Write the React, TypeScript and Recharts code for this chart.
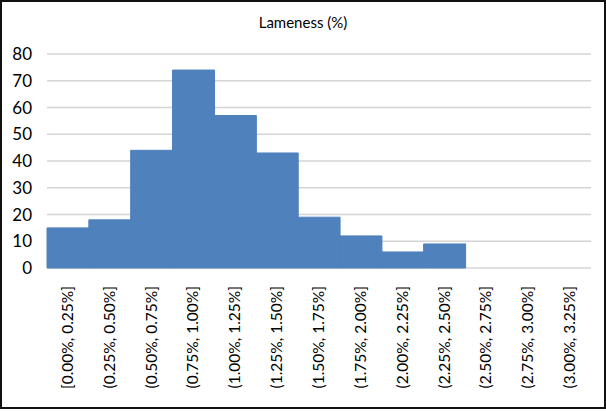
import { BarChart, Bar, XAxis, YAxis, CartesianGrid } from 'recharts';

const bins = [
  '[0.00%, 0.25%]',
  '(0.25%, 0.50%]',
  '(0.50%, 0.75%]',
  '(0.75%, 1.00%]',
  '(1.00%, 1.25%]',
  '(1.25%, 1.50%]',
  '(1.50%, 1.75%]',
  '(1.75%, 2.00%]',
  '(2.00%, 2.25%]',
  '(2.25%, 2.50%]',
  '(2.50%, 2.75%]',
  '(2.75%, 3.00%]',
  '(3.00%, 3.25%]',
];
const counts = [15, 18, 44, 74, 57, 43, 19, 12, 6, 9, 0, 0, 0];
const yTicks = [0, 10, 20, 30, 40, 50, 60, 70, 80];

const FONT = 'Lato, "Open Sans", sans-serif';

// rotated bin label, reads bottom-to-top like Excel
function BinTick(props: any) {
  const { x, y, payload } = props;
  return (
    <text
      transform={`translate(${x + 5},${y + 10}) rotate(-90)`}
      textAnchor="end"
      fontSize={15.5}
      fontFamily={FONT}
      fill="#000"
    >
      {payload.value}
    </text>
  );
}

export default function App() {
  const chartData = bins.map((bin, i) => ({ bin, count: counts[i] }));

  return (
    <div style={{ position: 'absolute', left: 0, top: 0, width: 606, height: 412, background: '#fff' }}>
      <div
        style={{
          position: 'absolute',
          left: 0,
          top: 0,
          width: 606,
          height: 409,
          boxSizing: 'border-box',
          border: '2px solid #111',
          pointerEvents: 'none',
        }}
      />
      <div
        style={{
          position: 'absolute',
          left: 0,
          top: 13,
          width: 606,
          textAlign: 'center',
          fontFamily: FONT,
          fontSize: 15,
          color: '#000',
        }}
      >
        Lameness (%)
      </div>
      <BarChart
        width={606}
        height={412}
        data={chartData}
        barCategoryGap={0}
        margin={{ top: 54, right: 15, bottom: 10, left: 7 }}
      >
        <CartesianGrid vertical={false} stroke="#D4D4D4" strokeWidth={1.5} />
        <XAxis
          dataKey="bin"
          interval={0}
          height={134}
          tick={<BinTick />}
          tickLine={false}
          axisLine={false}
        />
        <YAxis
          width={40}
          domain={[0, 80]}
          ticks={yTicks}
          tickLine={false}
          axisLine={false}
          tickSize={0}
          tickMargin={15}
          tick={{ fontSize: 17, fontFamily: FONT, fill: '#000' }}
        />
        <Bar dataKey="count" fill="#4F81BD" stroke="#4F81BD" strokeWidth={1} isAnimationActive={false} />
      </BarChart>
    </div>
  );
}
